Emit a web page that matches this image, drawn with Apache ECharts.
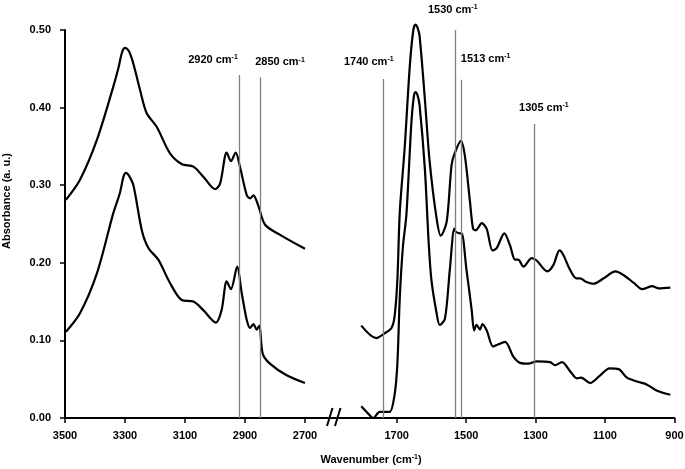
<!DOCTYPE html>
<html>
<head>
<meta charset="utf-8">
<script src="https://cdn.jsdelivr.net/npm/echarts@6/dist/echarts.min.js"></script>
<style>html,body{margin:0;padding:0;background:#fff}#c{width:685px;height:469px}</style>
</head>
<body>
<div id="c"></div>
<script>
// ---- data ----
const leftUpperWn  = [3497,3450,3394,3339,3322,3310,3300,3289,3278,3267,3250,3228,3194,3150,3110,3072,3039,3000,2983,2961,2947,2931,2917,2894,2883,2872,2856,2833,2783,2700];
const leftUpperAbs = [0.281,0.307,0.358,0.427,0.451,0.471,0.477,0.474,0.464,0.449,0.423,0.393,0.375,0.341,0.327,0.324,0.311,0.295,0.302,0.342,0.331,0.342,0.324,0.287,0.283,0.287,0.274,0.249,0.236,0.218];
const leftLowerWn  = [3497,3450,3394,3339,3317,3305,3297,3288,3272,3244,3222,3189,3150,3111,3072,3039,2997,2978,2961,2947,2926,2911,2894,2883,2872,2861,2852,2841,2817,2761,2700];
const leftLowerAbs = [0.111,0.135,0.186,0.264,0.290,0.311,0.316,0.313,0.300,0.242,0.219,0.204,0.174,0.152,0.150,0.139,0.123,0.139,0.176,0.166,0.195,0.161,0.126,0.116,0.121,0.114,0.119,0.083,0.070,0.055,0.045];
const rightUpperWn  = [1802,1759,1735,1715,1706,1698,1691,1677,1662,1652,1646,1640,1634,1619,1605,1585,1573,1556,1542,1533,1515,1504,1489,1480,1472,1455,1441,1424,1412,1390,1374,1359,1350,1335,1311,1297,1266,1249,1231,1220,1202,1183,1172,1157,1133,1104,1070,1046,1017,993,965,945,912];
const rightUpperAbs = [0.119,0.103,0.109,0.116,0.131,0.178,0.266,0.348,0.455,0.500,0.507,0.503,0.492,0.412,0.330,0.257,0.235,0.253,0.326,0.341,0.357,0.339,0.279,0.244,0.242,0.251,0.244,0.216,0.219,0.238,0.223,0.204,0.204,0.195,0.206,0.203,0.189,0.197,0.216,0.210,0.192,0.180,0.180,0.176,0.173,0.180,0.189,0.184,0.174,0.166,0.170,0.167,0.168];
const rightLowerWn  = [1802,1783,1768,1749,1735,1720,1706,1698,1691,1682,1672,1658,1651,1646,1640,1634,1619,1608,1600,1585,1576,1561,1547,1534,1530,1518,1513,1499,1484,1477,1470,1460,1453,1441,1422,1407,1388,1364,1345,1321,1297,1258,1244,1224,1200,1181,1169,1143,1114,1087,1061,1037,1008,979,950,912];
const rightLowerAbs = [0.015,0.006,0.000,0.008,0.008,0.008,0.030,0.070,0.156,0.221,0.262,0.378,0.413,0.420,0.416,0.403,0.322,0.227,0.178,0.135,0.120,0.128,0.191,0.244,0.240,0.238,0.238,0.191,0.139,0.113,0.120,0.114,0.121,0.113,0.092,0.095,0.098,0.079,0.071,0.070,0.073,0.072,0.068,0.072,0.060,0.051,0.052,0.045,0.055,0.064,0.063,0.052,0.047,0.043,0.035,0.030];
// marker lines: wavenumber and top of line (absorbance)
const leftMarkers   = [2920, 2850];
const leftMarkerTop = [0.442, 0.439];
const rightMarkers   = [1740, 1530, 1513, 1305];
const rightMarkerTop = [0.437, 0.500, 0.436, 0.379];
const leftTicks  = [2700, 2900, 3100, 3300, 3500];
const rightTicks = [900, 1100, 1300, 1500, 1700];

// ---- styles ----
const FONT = "'Liberation Sans', Arial, sans-serif";
const labelOffsets = { 2920: [-26, -4], 2850: [20, -4], 1740: [-14, -6], 1530: [-3, -9], 1513: [24, -10], 1305: [10, -5] };
const rich = {
  n: { fontSize: 11, fontWeight: 'bold', fontFamily: FONT, color: '#000' },
  s: { fontSize: 7, fontWeight: 'bold', fontFamily: FONT, color: '#000', verticalAlign: 'top', padding: [0, 0, 5, 0] }
};
function pairs(x, y) { return x.map((v, i) => [v, y[i]]); }
function markers(wns, tops) {
  return wns.map((w, i) => [
    { coord: [w, 0] },
    { coord: [w, tops[i]], label: { offset: labelOffsets[w] }, name: String(w) }
  ]);
}
const lineStyle = { color: '#000', width: 2.2 };
const axisText = { color: '#000', fontWeight: 'bold', fontSize: 11, fontFamily: FONT };

const chart = echarts.init(document.getElementById('c'), null, { renderer: 'canvas' });
const markLineCfg = (wns, tops) => ({
  silent: true,
  symbol: 'none',
  lineStyle: { color: '#808080', width: 1.3, type: 'solid' },
  label: {
    show: true, position: 'end', distance: 5,
    formatter: p => '{n|' + p.name + ' cm}{s|-1}',
    rich: rich
  },
  data: markers(wns, tops)
});

chart.setOption({
  animation: false,
  backgroundColor: '#fff',
  grid: [
    { left: 65, width: 240, top: 30, bottom: 51, outerBoundsMode: 'none' },
    { left: 305, width: 369.5, top: 30, bottom: 51, outerBoundsMode: 'none' }
  ],
  xAxis: [
    { gridIndex: 0, type: 'value', min: 2700, max: 3500, interval: 200, inverse: true,
      axisLine: { show: true, onZero: false, lineStyle: { color: '#000', width: 2 } },
      axisTick: { show: true, length: 5, lineStyle: { color: '#000', width: 1.5 }, customValues: leftTicks },
      axisLabel: { ...axisText, margin: 12, customValues: leftTicks, formatter: v => String(v) },
      splitLine: { show: false } },
    { gridIndex: 1, type: 'value', min: 900, max: 1964, interval: 200, inverse: true,
      axisLine: { show: true, onZero: false, lineStyle: { color: '#000', width: 2 } },
      axisTick: { show: true, length: 5, lineStyle: { color: '#000', width: 1.5 }, customValues: rightTicks },
      axisLabel: { ...axisText, margin: 12, customValues: rightTicks, formatter: v => String(v) },
      splitLine: { show: false } }
  ],
  yAxis: [
    { gridIndex: 0, type: 'value', min: 0, max: 0.5, interval: 0.1,
      axisLine: { show: true, onZero: false, lineStyle: { color: '#000', width: 2 } },
      axisTick: { show: true, length: 5, lineStyle: { color: '#000', width: 1.5 } },
      axisLabel: { ...axisText, margin: 14, formatter: v => v.toFixed(2) },
      splitLine: { show: false } },
    { gridIndex: 1, type: 'value', min: 0, max: 0.5, interval: 0.1, show: false, splitLine: { show: false } }
  ],
  series: [
    { type: 'line', xAxisIndex: 0, yAxisIndex: 0, data: pairs(leftUpperWn, leftUpperAbs), smooth: 0.3, showSymbol: false, clip: false, lineStyle: lineStyle,
      markLine: markLineCfg(leftMarkers, leftMarkerTop) },
    { type: 'line', xAxisIndex: 0, yAxisIndex: 0, data: pairs(leftLowerWn, leftLowerAbs), smooth: 0.3, showSymbol: false, clip: false, lineStyle: lineStyle },
    { type: 'line', xAxisIndex: 1, yAxisIndex: 1, data: pairs(rightUpperWn, rightUpperAbs), smooth: 0.3, showSymbol: false, clip: false, lineStyle: lineStyle,
      markLine: markLineCfg(rightMarkers, rightMarkerTop) },
    { type: 'line', xAxisIndex: 1, yAxisIndex: 1, data: pairs(rightLowerWn, rightLowerAbs), smooth: 0.3, showSymbol: false, clip: false, lineStyle: lineStyle }
  ],
  graphic: [
    { type: 'line', shape: { x1: 327, y1: 426, x2: 332.5, y2: 408 }, style: { stroke: '#000', lineWidth: 2 } },
    { type: 'line', shape: { x1: 335, y1: 426, x2: 340.5, y2: 408 }, style: { stroke: '#000', lineWidth: 2 } },
    { type: 'text', x: 371, y: 460, style: { text: '{n|Wavenumber (cm}{s|-1}{n|)}', rich: rich, align: 'center', verticalAlign: 'middle' } },
    { type: 'text', x: 7, y: 201, rotation: Math.PI / 2, style: { text: '{n|Absorbance (a. u.)}', rich: rich, align: 'center', verticalAlign: 'middle' } }
  ]
});
</script>
</body>
</html>
